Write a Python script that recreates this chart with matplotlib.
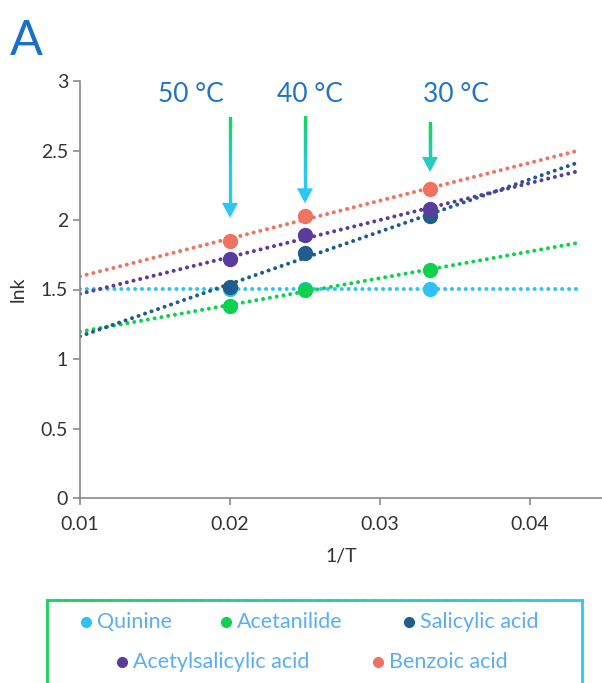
import numpy as np
import matplotlib.pyplot as plt
from matplotlib.collections import LineCollection
from matplotlib.colors import LinearSegmentedColormap
from matplotlib.lines import Line2D

plt.rcParams["font.family"] = ["Lato", "DejaVu Sans"]

# data
inv_t = [0.02, 0.025, 1 / 30]
temp_labels = ["50 °C", "40 °C", "30 °C"]
compounds = ["Quinine", "Acetanilide", "Salicylic acid", "Acetylsalicylic acid", "Benzoic acid"]
quinine = [1.505, 1.505, 1.505]
acetanilide = [1.38, 1.50, 1.64]
salicylic = [1.52, 1.76, 2.03]
acetylsalicylic = [1.72, 1.89, 2.08]
benzoic = [1.85, 2.03, 2.22]
series = [quinine, acetanilide, salicylic, acetylsalicylic, benzoic]
colors = ["#2EC2F7", "#0DD14F", "#1F5D8E", "#5A3C9C", "#F27262"]
trend_range = [0.01, 0.0432]

# arrow annotations (top of shaft, tip) and label positions
arrow_top = [2.735, 2.74, 2.70]
arrow_tip = [2.015, 2.12, 2.345]
label_x = [0.0174, 0.02533, 0.03507]
label_y = 2.90

W, H = 602, 683
fig = plt.figure(figsize=(W / 100, H / 100), dpi=100)
ax = fig.add_axes([80 / W, 1 - 498 / H, 1 - 80 / W, (498 - 81) / H])

xt = np.linspace(trend_range[0], trend_range[1], 50)
for name, vals, c in zip(compounds, series, colors):
    k, b = np.polyfit(inv_t, vals, 1)
    ax.plot(xt, k * xt + b, color=c, lw=2.9, linestyle=(0, (0.01, 1.7)),
            dash_capstyle="round", zorder=2)
for name, vals, c in zip(compounds, series, colors):
    ax.plot(inv_t, vals, "o", color=c, ms=10, zorder=3, label=name)

ax.set_xlim(0.01, 0.01 + 522 / 15000)
ax.set_ylim(0, 3)
ax.set_xticks([0.01, 0.02, 0.03, 0.04])
ax.set_xticklabels(["0.01", "0.02", "0.03", "0.04"])
ax.set_yticks([0, 0.5, 1, 1.5, 2, 2.5, 3])
ax.set_yticklabels(["0", "0.5", "1", "1.5", "2", "2.5", "3"])
for s in ["top", "right"]:
    ax.spines[s].set_visible(False)
for s in ["left", "bottom"]:
    ax.spines[s].set_color("#8a8a8a")
    ax.spines[s].set_linewidth(1.2)
ax.tick_params(colors="#8a8a8a", labelcolor="#333333", labelsize=14, length=5, width=1.2)
ax.tick_params(axis="x", pad=8)
ax.set_xlabel("1/T", fontsize=14, color="#333333", labelpad=11)
ax.set_ylabel("lnk", fontsize=14, color="#333333", labelpad=10)

# gradient arrows: green at the top of each shaft, cyan towards the head
cmap = LinearSegmentedColormap.from_list("gc", ["#14D65A", "#2BC8F0"])
head_len = 0.108
head_hw = 8 / 15000
fade = 0.42
for x, top, tip in zip(inv_t, arrow_top, arrow_tip):
    ys = np.linspace(top, tip + head_len, 25)
    segs = [[(x, ys[i]), (x, ys[i + 1])] for i in range(len(ys) - 1)]
    cvals = [min(1.0, (top - (ys[i] + ys[i + 1]) / 2) / fade) for i in range(len(ys) - 1)]
    lc = LineCollection(segs, colors=cmap(cvals), linewidths=2.3, capstyle="projecting", zorder=4)
    ax.add_collection(lc)
    hc = cmap(min(1.0, (top - (tip + head_len * 0.5)) / fade))
    ax.fill([x - head_hw, x + head_hw, x], [tip + head_len, tip + head_len, tip],
            color=hc, lw=0, zorder=4)
for x, t in zip(label_x, temp_labels):
    ax.text(x, label_y, t, ha="center", va="center", fontsize=19, color="#1F73C9")

fig.text(10 / W, 1 - 55 / H, "A", fontsize=35, color="#1A6FCC", ha="left", va="baseline")

# legend box with green-to-cyan border
bx0, bx1, by_top = 47 / W, 582 / W, 1 - 600 / H
gx = np.linspace(bx0, bx1, 60)
segs = [[(gx[i], by_top), (gx[i + 1], by_top)] for i in range(len(gx) - 1)]
lc = LineCollection(segs, colors=cmap(np.linspace(0, 1, len(segs))), linewidths=2,
                    capstyle="projecting", transform=fig.transFigure)
fig.add_artist(lc)
fig.add_artist(Line2D([bx0, bx0], [by_top, -0.01], color=cmap(0.0), lw=2, transform=fig.transFigure))
fig.add_artist(Line2D([bx1, bx1], [by_top, -0.01], color=cmap(1.0), lw=2, transform=fig.transFigure))

leg_pos = [(86, 622), (226, 622), (409, 622), (122, 662), (378, 662)]
for (px, py), name, c in zip(leg_pos, compounds, colors):
    fig.add_artist(Line2D([px / W], [1 - py / H], marker="o", ms=7, color=c, lw=0,
                          transform=fig.transFigure))
    fig.text((px + 11) / W, 1 - py / H, name, fontsize=15.5, color="#5AAEF5",
             ha="left", va="center")

fig.savefig("out.png", dpi=100)
